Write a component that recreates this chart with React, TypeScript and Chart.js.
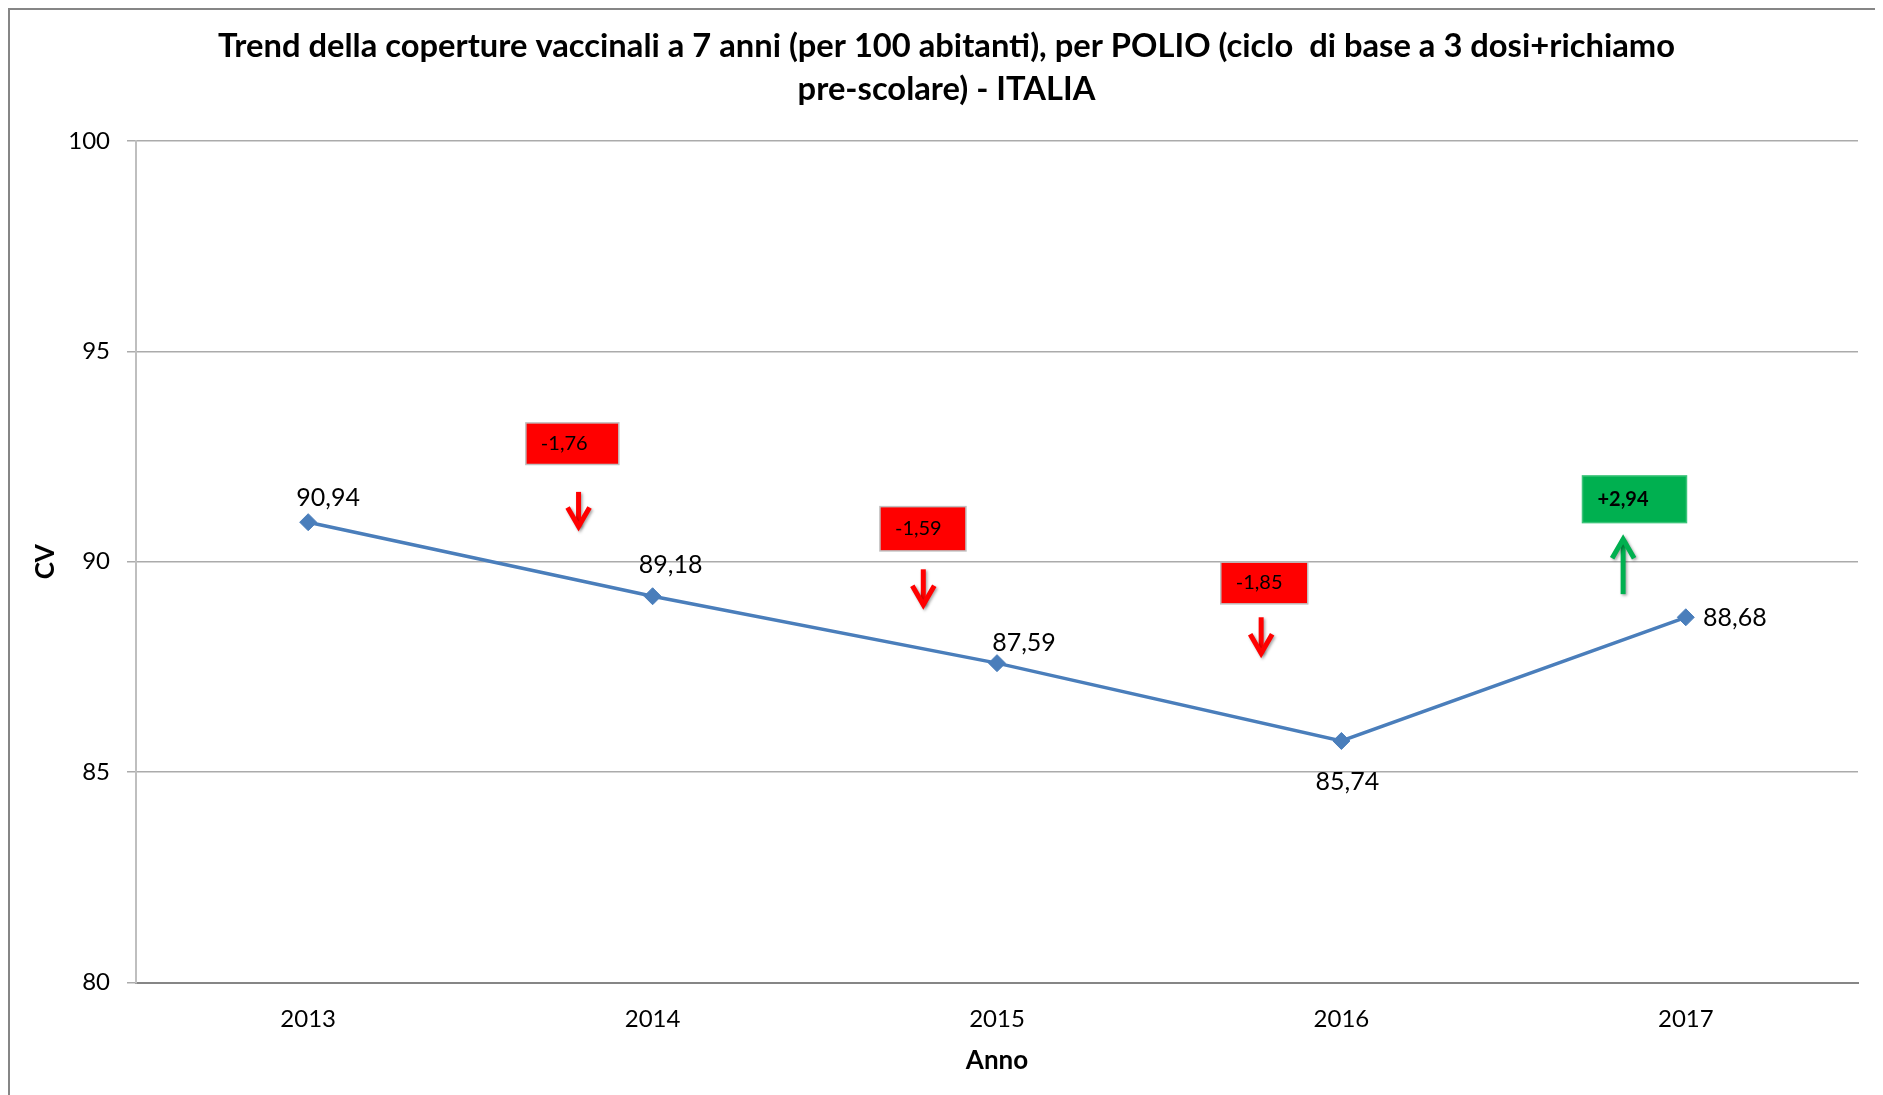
import React, { useEffect, useRef } from 'react';
import { Chart, registerables } from 'chart.js';

Chart.register(...registerables);

// ---- data ----
const years = ['2013', '2014', '2015', '2016', '2017'];
const coverage = [90.94, 89.18, 87.59, 85.74, 88.68];
const yTickValues = [80, 85, 90, 95, 100];
const changeValues = [-1.76, -1.59, -1.85, 2.94];
const changeLabels = ['-1,76', '-1,59', '-1,85', '+2,94'];

// annotation anchors in data space (category index, value)
const changeBoxX = [0.767, 1.785, 2.776, 3.851];
const changeBoxTop = [93.3, 91.31, 89.99, 92.04];
const arrowX = [0.785, 1.786, 2.767, 3.818];
const arrowFrom = [91.66, 89.82, 88.68, 89.23];
const arrowTo = [90.79, 88.93, 87.78, 90.58];

const FONT = 'Lato, "Open Sans", sans-serif';
const fmt = (v: number) => v.toFixed(2).replace('.', ',');

const labelPlugin = {
  id: 'pointLabels',
  afterDatasetsDraw(chart: any) {
    const { ctx } = chart;
    const meta = chart.getDatasetMeta(0);
    const offsets = [
      [20, -24.5, 'center'],
      [18, -31, 'center'],
      [27, -20.6, 'center'],
      [6, 41, 'center'],
      [17.3, 1, 'left'],
    ];
    ctx.save();
    ctx.font = `25px ${FONT}`;
    ctx.fillStyle = '#000';
    ctx.textBaseline = 'middle';
    meta.data.forEach((pt: any, i: number) => {
      const o = offsets[i];
      ctx.textAlign = o[2];
      ctx.fillText(fmt(coverage[i]), pt.x + (o[0] as number), pt.y + (o[1] as number));
    });
    ctx.restore();
  },
};

const changePlugin = {
  id: 'changeBoxes',
  afterDatasetsDraw(chart: any) {
    const { ctx, scales } = chart;
    const xs = scales.x;
    const ys = scales.y;
    const boxW = [93, 86, 87, 104];
    const boxH = [41.6, 44.3, 41.7, 46.7];
    ctx.save();
    changeValues.forEach((v, i) => {
      const up = v > 0;
      const fill = up ? '#00b050' : '#ff0000';
      const cx = xs.getPixelForValue(changeBoxX[i]);
      const top = ys.getPixelForValue(changeBoxTop[i]);
      const w = boxW[i];
      const h = boxH[i];
      const left = cx - w / 2;
      ctx.fillStyle = fill;
      ctx.fillRect(left, top, w, h);
      ctx.lineWidth = 1.5;
      ctx.strokeStyle = up ? '#3cc47a' : '#c0c0c0';
      ctx.strokeRect(left, top, w, h);
      ctx.fillStyle = '#000';
      ctx.font = `${up ? 'bold ' : ''}20px ${FONT}`;
      ctx.textAlign = 'left';
      ctx.textBaseline = 'middle';
      ctx.fillText(changeLabels[i], left + 15, top + h / 2);

      // arrow
      const ax = xs.getPixelForValue(arrowX[i]);
      const y0 = ys.getPixelForValue(arrowFrom[i]);
      const y1 = ys.getPixelForValue(arrowTo[i]);
      const dir = y1 > y0 ? 1 : -1;
      ctx.save();
      ctx.shadowColor = 'rgba(0,0,0,0.35)';
      ctx.shadowBlur = 3;
      ctx.shadowOffsetX = 1.5;
      ctx.shadowOffsetY = 1.5;
      ctx.strokeStyle = fill;
      ctx.lineWidth = 5;
      ctx.lineCap = 'butt';
      ctx.lineJoin = 'miter';
      ctx.beginPath();
      ctx.moveTo(ax, y0);
      ctx.lineTo(ax, y1 - dir * 2);
      ctx.stroke();
      ctx.beginPath();
      const hw = 11;
      const hh = 21;
      ctx.moveTo(ax - hw, y1 - dir * hh);
      ctx.lineTo(ax, y1 - dir * 2);
      ctx.lineTo(ax + hw, y1 - dir * hh);
      ctx.stroke();
      ctx.restore();
    });
    ctx.restore();
  },
};

export default function App() {
  const ref = useRef<HTMLCanvasElement>(null);
  useEffect(() => {
    document.documentElement.style.overflow = 'hidden';
    document.body.style.overflow = 'hidden';
    if (!ref.current) return;
    const chart = new Chart(ref.current, {
      type: 'line',
      data: {
        labels: years,
        datasets: [
          {
            label: 'CV',
            data: coverage,
            borderColor: '#4a7ebb',
            backgroundColor: '#4a7ebb',
            borderWidth: 3.5,
            pointStyle: 'rectRot',
            pointRadius: 8.5,
            pointBorderWidth: 1,
            pointBackgroundColor: '#4a7ebb',
            pointBorderColor: '#4a7ebb',
            tension: 0,
          },
        ],
      },
      options: {
        animation: false,
        responsive: true,
        maintainAspectRatio: false,
        layout: { padding: { left: 0, right: 0, top: 0, bottom: 0 } },
        plugins: {
          legend: { display: false },
          tooltip: { enabled: false },
          title: {
            display: true,
            text: [
              'Trend della coperture vaccinali a 7 anni (per 100 abitanti), per POLIO (ciclo  di base a 3 dosi+richiamo',
              'pre-scolare) - ITALIA',
            ],
            color: '#000',
            font: { family: FONT, size: 32.7, weight: 'bold', lineHeight: 1.33 },
            padding: { top: 14.25, bottom: 29.75 },
          },
        },
        scales: {
          x: {
            offset: true,
            grid: { display: false },
            border: { display: true, color: '#868686', width: 2 },
            ticks: { color: '#000', font: { family: FONT, size: 24 }, padding: 14.6, maxRotation: 0 },
            title: {
              display: true,
              text: 'Anno',
              color: '#000',
              font: { family: FONT, size: 26, weight: 'bold', lineHeight: 1.2 },
              padding: { top: 0, bottom: 19 },
            },
            afterFit: (s: any) => {
              s.height = 112.5;
            },
          },
          y: {
            min: 80,
            max: 100,
            afterBuildTicks: (s: any) => {
              s.ticks = yTickValues.map((v) => ({ value: v }));
            },
            grid: { color: '#ababab', lineWidth: 1.5, drawTicks: true, tickLength: 9 },
            border: { display: true, color: '#bfbfbf', width: 2 },
            ticks: { color: '#000', font: { family: FONT, size: 24 }, padding: 17 },
            title: {
              display: true,
              text: 'CV',
              color: '#000',
              font: { family: FONT, size: 26, weight: 'bold', lineHeight: 1.2 },
              padding: { top: 20.5, bottom: 0 },
            },
            afterFit: (s: any) => {
              s.width = 126;
            },
          },
          yRightSpacer: {
            type: 'linear',
            position: 'right',
            display: true,
            min: 80,
            max: 100,
            grid: { display: false, drawOnChartArea: false },
            border: { display: false },
            ticks: { display: false },
            afterFit: (s: any) => {
              s.width = 25;
            },
          },
        },
      },
      plugins: [changePlugin, labelPlugin],
    });
    return () => chart.destroy();
  }, []);

  return (
    <div
      style={{
        position: 'relative',
        width: 1873,
        height: 1085,
        borderLeft: '2px solid #868686',
        borderTop: '2px solid #868686',
        background: '#fff',
      }}
    >
      <canvas ref={ref} />
    </div>
  );
}
